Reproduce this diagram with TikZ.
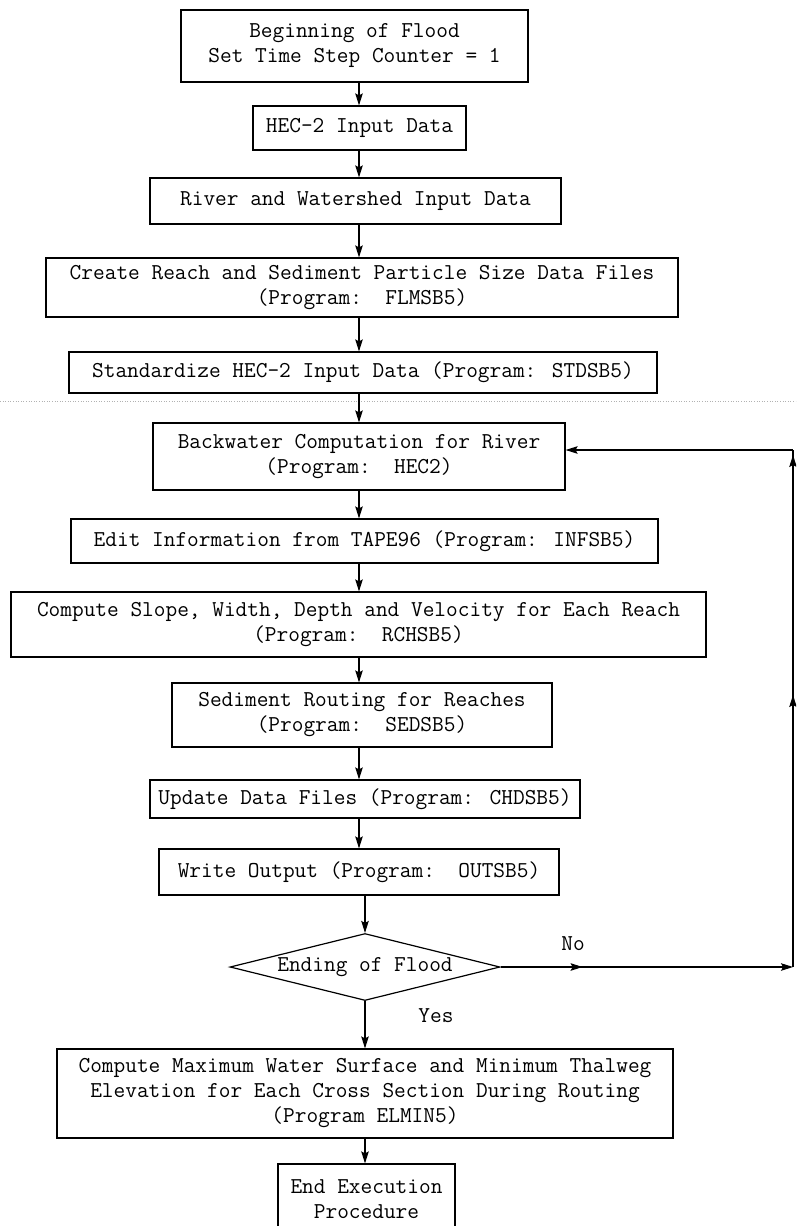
\documentclass[tikz,border=0pt]{standalone}
\usetikzlibrary{arrows.meta,shapes.geometric,decorations.markings}
\tikzset{
  txt/.style={font=\ttfamily\fontsize{22.7}{25}\selectfont},
  box/.style={draw=black, line width=1.2pt, rectangle, inner sep=0pt, align=center, txt},
  dia/.style={draw=black, line width=1.2pt, diamond, aspect=4, inner sep=0pt, txt},
  lbl/.style={txt, inner sep=0pt},
  tip/.style={-{Stealth[length=12pt,width=7.5pt,inset=2pt]}},
  arr/.style={line width=1.1pt, tip},
  loopline/.style={line width=1.1pt},
}
\begin{document}
\begin{tikzpicture}[x=1pt,y=-1pt]
\useasboundingbox (0,0) rectangle (796,1226);
\clip (0,0) rectangle (796,1226);
% scan fold line
\draw[gray!60, dotted, line width=0.6pt] (0,401) -- (796,401);

\node[box, minimum width=347, minimum height=72] (n1) at (354.5,46) {Beginning of Flood\\Set Time Step Counter = 1};
\node[box, minimum width=213, minimum height=44] (n2) at (359.5,128) {HEC-2 Input Data};
\node[box, minimum width=411, minimum height=46] (n3) at (355.5,201) {River and Watershed Input Data};
\node[box, minimum width=632, minimum height=59] (n4) at (362,287.5) {Create Reach and Sediment Particle Size Data Files\\(Program:\ \ FLMSB5)};
\node[box, minimum width=588, minimum height=41] (n5) at (363,372.5) {Standardize HEC-2 Input Data (Program: STDSB5)};
\node[box, minimum width=412, minimum height=67] (n6) at (359,456.5) {Backwater Computation for River\\(Program:\ \ HEC2)};
\node[box, minimum width=587, minimum height=44] (n7) at (364.5,541) {Edit Information from TAPE96 (Program: INFSB5)};
\node[box, minimum width=695, minimum height=65] (n8) at (358.5,624.5) {Compute Slope, Width, Depth and Velocity for Each Reach\\(Program:\ \ RCHSB5)};
\node[box, minimum width=380, minimum height=64] (n9) at (362,715) {Sediment Routing for Reaches\\(Program:\ \ SEDSB5)};
\node[box, minimum width=430, minimum height=38] (n10) at (365,799) {Update Data Files (Program: CHDSB5)};
\node[box, minimum width=400, minimum height=46] (n11) at (359,872) {Write Output (Program:\ \ OUTSB5)};
\node[dia, minimum width=270, minimum height=67] (d) at (365,967) {Ending of Flood};
\node[box, minimum width=616, minimum height=89] (n13) at (365,1093.5) {Compute Maximum Water Surface and Minimum Thalweg\\Elevation for Each Cross Section During Routing\\(Program ELMIN5)};
\node[box, minimum width=177, minimum height=70] (n14) at (366.5,1199) {End Execution\\Procedure};

\node[lbl] (no) at (573,944) {No};
\node[lbl] (yes) at (436,1016) {Yes};

\coordinate (ax) at (359,0);
\coordinate (bx) at (365,0);
\draw[arr] (n1.south -| ax) -- (n2.north -| ax);
\draw[arr] (n2.south -| ax) -- (n3.north -| ax);
\draw[arr] (n3.south -| ax) -- (n4.north -| ax);
\draw[arr] (n4.south -| ax) -- (n5.north -| ax);
\draw[arr] (n5.south -| ax) -- (n6.north -| ax);
\draw[arr] (n6.south -| ax) -- (n7.north -| ax);
\draw[arr] (n7.south -| ax) -- (n8.north -| ax);
\draw[arr] (n8.south -| ax) -- (n9.north -| ax);
\draw[arr] (n9.south -| ax) -- (n10.north -| ax);
\draw[arr] (n10.south -| ax) -- (n11.north -| ax);
\draw[arr] (n11.south -| bx) -- (d.north);
\draw[arr] (d.south) -- (n13.north -| d.south);
\draw[arr] (n13.south -| bx) -- (n14.north -| bx);

% feedback loop
\coordinate (c1) at (793,967);
\coordinate (c2) at (793,450);
\draw[loopline, postaction={decorate}, decoration={markings,
   mark=at position 82pt with {\arrow{Stealth[length=12pt,width=7.5pt,inset=2pt]}}}, tip]
   (d.east) -- (c1);
\draw[loopline, postaction={decorate}, decoration={markings,
   mark=at position 272pt with {\arrow{Stealth[length=12pt,width=7.5pt,inset=2pt]}},
   mark=at position 512pt with {\arrow{Stealth[length=12pt,width=7.5pt,inset=2pt]}}}]
   (c1) -- (c2);
\draw[arr] (c2) -- (c2 -| n6.east);
\end{tikzpicture}
\end{document}
